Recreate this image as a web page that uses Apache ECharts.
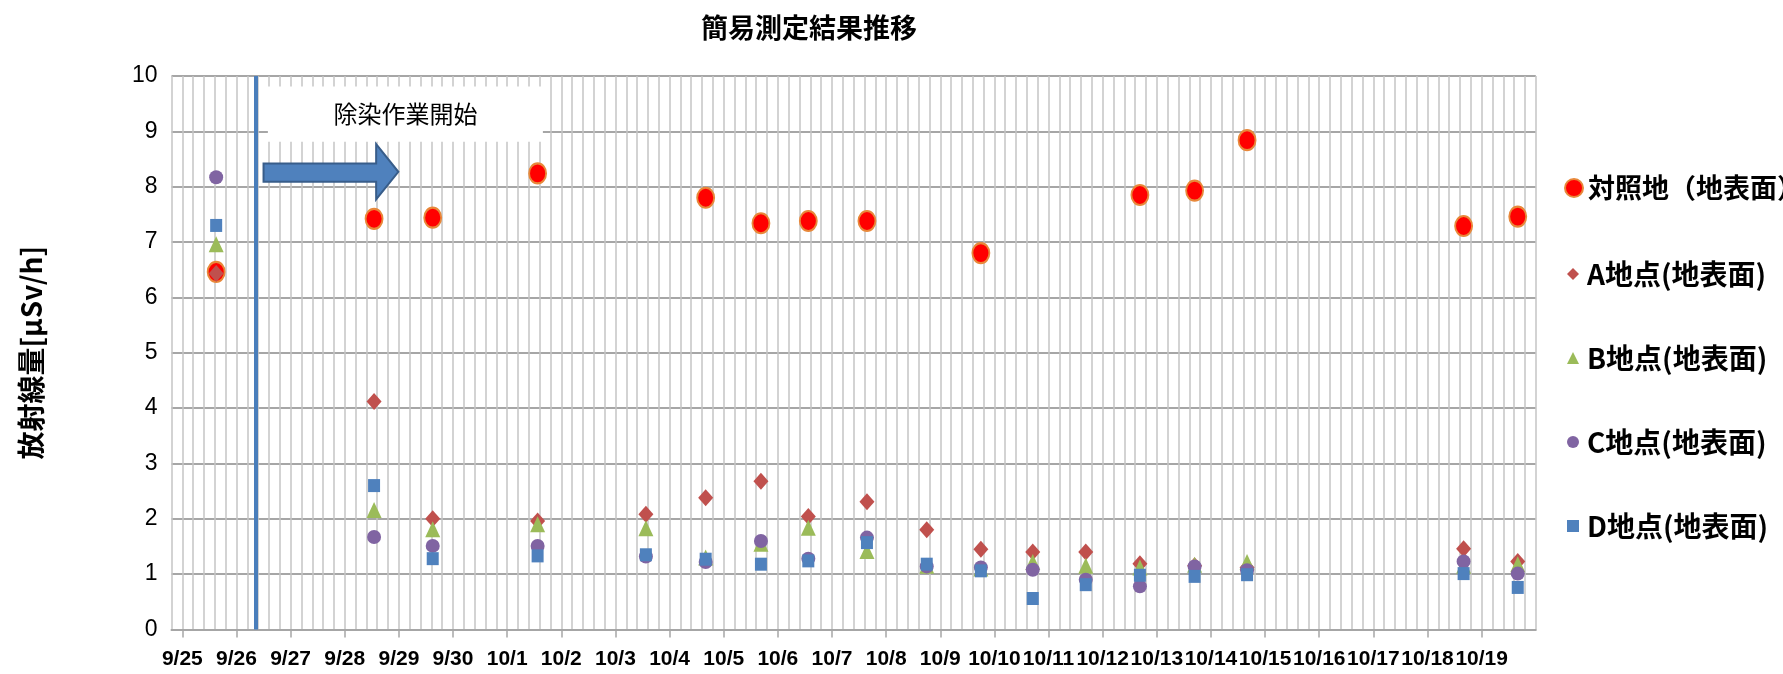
<!DOCTYPE html>
<html>
<head>
<meta charset="utf-8">
<script src="https://cdn.jsdelivr.net/npm/echarts@6/dist/echarts.min.js"></script>
<style>
  html, body { margin: 0; padding: 0; background: #fff; }
  #chart { width: 1783px; height: 674px; }
</style>
</head>
<body>
<div id="chart"></div>
<script>
// Date labels along the time axis (one per day)
const dayLabels = ['9/25', '9/26', '9/27', '9/28', '9/29', '9/30', '10/1', '10/2', '10/3',
  '10/4', '10/5', '10/6', '10/7', '10/8', '10/9', '10/10', '10/11', '10/12', '10/13',
  '10/14', '10/15', '10/16', '10/17', '10/18', '10/19'];

// Measurement times
const measuredAt = ['9/25 15:00', '9/28 13:00', '9/29 15:00', '10/1 13:30', '10/3 13:30',
  '10/4 16:00', '10/5 16:30', '10/6 13:30', '10/7 15:30', '10/8 18:00', '10/9 18:00',
  '10/10 17:00', '10/11 16:30', '10/12 16:30', '10/13 16:45', '10/14 16:00',
  '10/18 16:00', '10/19 16:00'];

// Dose rates [μSv/h] at ground surface
const controlSite = [6.46, 7.42, 7.44, 8.24, null, 7.80, 7.34, 7.38, 7.38, null, 6.80,
  null, null, 7.85, 7.93, 8.84, 7.29, 7.46];
const siteA = [6.43, 4.12, 2.00, 1.96, 2.08, 2.38, 2.68, 2.04, 2.31, 1.80, 1.45,
  1.40, 1.40, 1.19, 1.15, 1.12, 1.46, 1.23];
const siteB = [6.96, 2.16, 1.81, 1.90, 1.83, 1.30, 1.55, 1.84, 1.42, 1.15, 1.10,
  1.22, 1.15, 1.12, 1.17, 1.22, 1.15, 1.18];
const siteC = [8.17, 1.67, 1.51, 1.51, 1.32, 1.22, 1.60, 1.28, 1.66, 1.14, 1.12,
  1.08, 0.90, 0.78, 1.14, 1.07, 1.23, 1.01];
const siteD = [7.30, 2.60, 1.28, 1.33, 1.35, 1.27, 1.18, 1.24, 1.57, 1.18, 1.06,
  0.56, 0.81, 0.98, 0.96, 0.99, 1.01, 0.76];

// Start of decontamination work
const workStart = '9/26 08:40';
const workStartText = '除染作業開始';

// Annotation geometry (in axis units: days / μSv/h)
const noteBox = { x0: 1.58, x1: 6.66, yTop: 9.81, yBottom: 8.81 };
const arrowShape = { x0: 1.50, neck: 3.58, tip: 3.99, bodyTop: 8.42, bodyBottom: 8.09, headTop: 8.77, headBottom: 7.77 };

const CJK = '"Noto Sans CJK JP", sans-serif';
const LAT = '"Liberation Sans", Arial, sans-serif';

// "M/D hh:mm" -> days since the first date label
function toDay(s) {
  const [md, hm] = s.split(' ');
  const [h, mi] = hm.split(':').map(Number);
  return dayLabels.indexOf(md) + (h + mi / 60) / 24;
}

function points(values) {
  const out = [];
  values.forEach((v, i) => { if (v != null) out.push([toDay(measuredAt[i]), v]); });
  return out;
}

const dayTicks = dayLabels.map((_, i) => i);
const xMin = -0.2, xMax = 25, gridStep = 0.2;

const chart = echarts.init(document.getElementById('chart'), null, { renderer: 'canvas' });

chart.setOption({
  animation: false,
  backgroundColor: '#fff',
  title: {
    text: '簡易測定結果推移',
    left: 804,
    textAlign: 'center',
    top: 9,
    textStyle: { fontFamily: CJK, fontSize: 27, fontWeight: 'bold', color: '#000' }
  },
  grid: { left: 171.5, right: 247.2, top: 76, bottom: 44.5, containLabel: false },
  legend: [
    {
      data: ['対照地（地表面）'],
      orient: 'vertical',
      left: 1559, top: 168,
      itemWidth: 18, itemHeight: 18,
      textStyle: { fontFamily: CJK, fontSize: 27, fontWeight: 'bold', color: '#000', lineHeight: 30 }
    },
    {
      data: ['A地点(地表面)', 'B地点(地表面)', 'C地点(地表面)', 'D地点(地表面)'],
      orient: 'vertical',
      left: 1562, top: 254,
      itemWidth: 12, itemHeight: 12, itemGap: 54,
      textStyle: { fontFamily: CJK, fontSize: 28, fontWeight: 'bold', color: '#000', lineHeight: 30, padding: [0, 0, 0, 3] }
    }
  ],
  xAxis: [
    {
      // day axis: date labels and tick marks
      type: 'value',
      min: xMin, max: xMax, interval: gridStep,
      axisLine: { show: true, lineStyle: { color: '#A6A6A6', width: 2 } },
      axisTick: { show: true, customValues: dayTicks, length: 8, lineStyle: { color: '#A6A6A6', width: 1.5 } },
      axisLabel: {
        customValues: dayTicks,
        formatter: v => dayLabels[Math.round(v)] || '',
        fontFamily: LAT, fontSize: 21, fontWeight: 'bold', color: '#000', margin: 19
      },
      splitLine: { show: false }
    },
    {
      // fine vertical grid every 0.2 day
      type: 'value',
      position: 'top',
      min: xMin, max: xMax, interval: gridStep,
      axisLine: { show: false },
      axisTick: { show: false },
      axisLabel: { show: false },
      splitLine: { show: true, lineStyle: { color: '#C4C4C4', width: 1.5 } }
    }
  ],
  yAxis: {
    type: 'value',
    min: 0, max: 10, interval: 1,
    name: '放射線量[μSv/h]',
    nameLocation: 'middle',
    nameRotate: 90,
    nameGap: 126,
    nameTextStyle: { fontFamily: CJK, fontSize: 28, fontWeight: 'bold', color: '#000' },
    axisLine: { show: false },
    axisTick: { show: false },
    axisLabel: { fontFamily: LAT, fontSize: 23, color: '#000', margin: 14 },
    splitLine: { show: true, lineStyle: { color: '#A6A6A6', width: 2 } }
  },
  series: [
    {
      name: '対照地（地表面）', type: 'scatter', symbol: 'circle', symbolSize: [17, 20],
      itemStyle: { color: '#FF0000', borderColor: '#E8883A', borderWidth: 2, opacity: 1 },
      data: points(controlSite),
      markArea: {
        silent: true,
        itemStyle: { color: '#FFFFFF' },
        label: {
          show: true, position: 'inside', formatter: workStartText,
          fontFamily: CJK, fontSize: 24, color: '#000'
        },
        data: [[{ xAxis: noteBox.x0, yAxis: noteBox.yTop }, { xAxis: noteBox.x1, yAxis: noteBox.yBottom }]]
      },
      markLine: {
        silent: true, symbol: 'none',
        label: { show: false },
        lineStyle: { color: '#4A7EBB', width: 4, type: 'solid' },
        data: [{ xAxis: toDay(workStart) }]
      }
    },
    {
      name: 'A地点(地表面)', type: 'scatter', symbol: 'diamond', symbolSize: [15, 17],
      itemStyle: { color: '#C0504D', opacity: 1 },
      data: points(siteA)
    },
    {
      name: 'B地点(地表面)', type: 'scatter', symbol: 'triangle', symbolSize: [15, 16],
      itemStyle: { color: '#9BBB59', opacity: 1 },
      data: points(siteB)
    },
    {
      name: 'C地点(地表面)', type: 'scatter', symbol: 'circle', symbolSize: [14, 14],
      itemStyle: { color: '#8064A2', opacity: 1 },
      data: points(siteC)
    },
    {
      name: 'D地点(地表面)', type: 'scatter', symbol: 'rect', symbolSize: [12, 13],
      itemStyle: { color: '#4F81BD', opacity: 1 },
      data: points(siteD)
    },
    {
      // block arrow pointing from the start line into the work period
      name: 'arrow', type: 'custom', silent: true, z: 5, clip: false,
      data: [[arrowShape.x0, arrowShape.bodyTop]],
      renderItem: (params, api) => {
        const a = arrowShape;
        const mid = (a.headTop + a.headBottom) / 2;
        const pts = [
          [a.x0, a.bodyTop], [a.neck, a.bodyTop], [a.neck, a.headTop], [a.tip, mid],
          [a.neck, a.headBottom], [a.neck, a.bodyBottom], [a.x0, a.bodyBottom]
        ].map(p => api.coord(p));
        return {
          type: 'polygon',
          shape: { points: pts },
          style: { fill: '#4F81BD', stroke: '#385D8A', lineWidth: 2 }
        };
      }
    }
  ]
});
</script>
</body>
</html>
